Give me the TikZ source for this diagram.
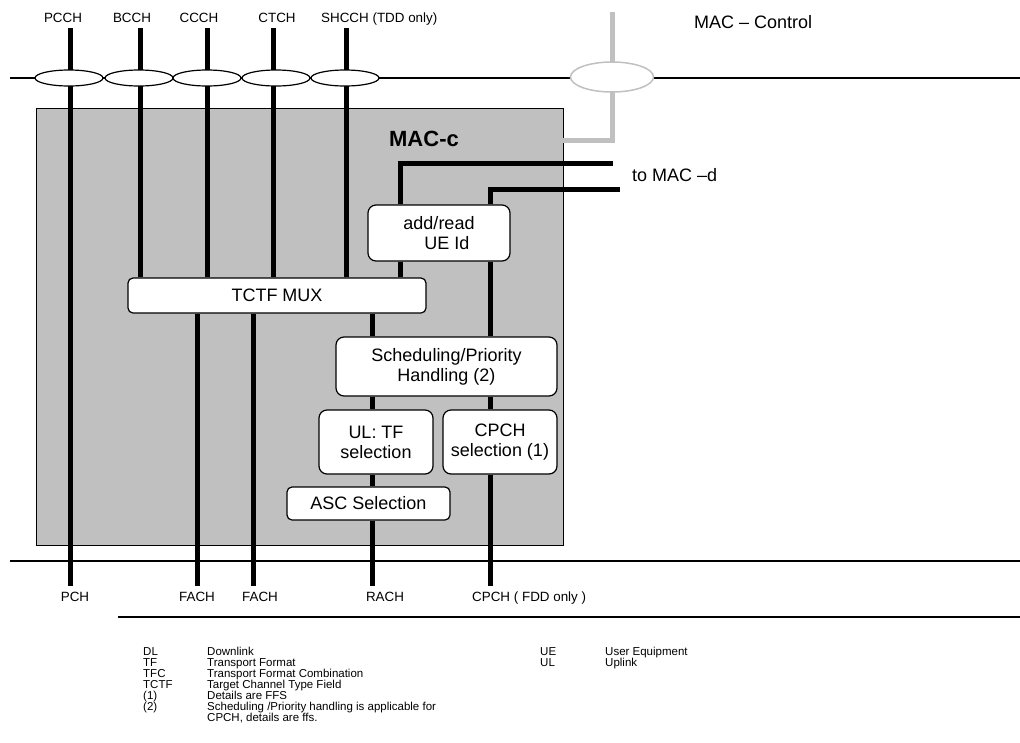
\documentclass[tikz,border=0pt]{standalone}
\usepackage{fontspec}
\setmainfont{Liberation Sans}
\usepackage{xcolor}
\usetikzlibrary{positioning,shapes.geometric,calc}
\definecolor{gris}{HTML}{C0C0C0}

\begin{document}
\begin{tikzpicture}[x=1pt,y=-1pt,
		canal/.style={line width=5pt},
		bus/.style={line width=1.6pt},
		bloc/.style={draw, line width=1.2pt, fill=white, rounded corners=8pt, align=center, inner sep=0pt, font=\fontsize{18}{20}\selectfont},
		anneau/.style={ellipse, draw, line width=1.2pt, fill=white, minimum width=68pt, minimum height=16pt, inner sep=0pt},
		lbl/.style={anchor=base, inner sep=0pt, font=\fontsize{13.4}{15}\selectfont},
		grand/.style={anchor=base west, inner sep=0pt, font=\fontsize{18}{20}\selectfont},
		leg/.style={anchor=north west, inner sep=0pt, align=left, font=\fontsize{11.5}{11}\selectfont}
		]
		\useasboundingbox (0,0) rectangle (1020,742);
		
		% Les bus horizontaux
		\coordinate (h1) at (10,78);  \coordinate (h2) at (1020,78);
		\coordinate (b1) at (10,561); \coordinate (b2) at (1020,561);
		\coordinate (l1) at (118,617); \coordinate (l2) at (1020,617);
		\draw[bus] (h1) -- (h2);
		\draw[bus] (b1) -- (b2);
		\draw[bus] (l1) -- (l2);
		
		% Le bloc MAC-c
		\node[draw, fill=gris, line width=1pt, minimum width=527pt, minimum height=437pt, inner sep=0pt] (MACc) at (299.5,326.5) {};
		\node[anchor=base, inner sep=0pt, font=\fontsize{22}{24}\selectfont\bfseries] (titre) at (424,146) {MAC-c};
		
		% MAC - Control (gris)
		\coordinate (ctl) at (612,12);
		\coordinate (c2) at (563,140);
		\draw[gris, line width=5pt] (ctl) |- (c2);
		\node[ellipse, draw=gris, line width=1.5pt, fill=white, minimum width=83pt, minimum height=30pt] (eC) at (612,77) {};
		\node[grand] (ctrl) at (694,28) {MAC -- Control};
		
		% Les blocs
		\node[bloc, minimum width=142pt, minimum height=56pt] (ADD) at (439,233) {add/read\\\hspace*{16pt}UE Id};
		\node[bloc, rounded corners=5pt, minimum width=298pt, minimum height=35pt] (MUX) at (277,295.5) {TCTF MUX};
		\node[bloc, minimum width=221pt, minimum height=59pt] (SCH) at (446.5,366.5) {Scheduling/Priority\\Handling (2)};
		\node[bloc, minimum width=114pt, minimum height=64pt] (TF) at (376,442) {UL: TF\\selection};
		\node[bloc, minimum width=114pt, minimum height=64pt] (CP) at (500,442) {CPCH\\selection (1)};
		\node[bloc, rounded corners=5pt, minimum width=163pt, minimum height=33pt] (ASC) at (368.5,503.5) {ASC Selection};
		
		% Les canaux logiques et de transport
		\coordinate (pcch) at (70,28);  \coordinate (pch) at (70,586);
		\coordinate (bcch) at (140,28);
		\coordinate (ccch) at (207,28);
		\coordinate (ctch) at (273,28);
		\coordinate (shcch) at (346,28);
		\coordinate (fach1) at (197,586);
		\coordinate (fach2) at (253,586);
		\coordinate (rach) at (372,586);
		\coordinate (cpch) at (490,586);
		\coordinate (ue) at (400,0);
		\coordinate (d1) at (613,163);
		\coordinate (d2) at (620,189);
		
		\draw[canal] (pcch) -- (pch);
		\draw[canal] (bcch) -- (bcch |- MUX.north);
		\draw[canal] (ccch) -- (ccch |- MUX.north);
		\draw[canal] (ctch) -- (ctch |- MUX.north);
		\draw[canal] (shcch) -- (shcch |- MUX.north);
		\draw[canal] (MUX.south -| fach1) -- (fach1);
		\draw[canal] (MUX.south -| fach2) -- (fach2);
		\draw[canal] (MUX.south -| rach) -- (rach |- SCH.north);
		\draw[canal] (SCH.south -| rach) -- (rach |- TF.north);
		\draw[canal] (TF.south -| rach) -- (rach |- ASC.north);
		\draw[canal] (ASC.south -| rach) -- (rach);
		\draw[canal] (d1) -| (ADD.north -| ue);
		\draw[canal] (ADD.south -| ue) -- (ue |- MUX.north);
		\draw[canal] (d2) -| (ADD.north -| cpch);
		\draw[canal] (ADD.south -| cpch) -- (cpch |- SCH.north);
		\draw[canal] (SCH.south -| cpch) -- (cpch |- CP.north);
		\draw[canal] (CP.south -| cpch) -- (cpch);
		\node[grand] (macd) at (632,181) {to MAC --d};
		
		% Les anneaux
		\node[anneau] (e1) at (69,78) {};
		\node[anneau] (e2) at (139,78) {};
		\node[anneau] (e3) at (207,78) {};
		\node[anneau] (e4) at (276,78) {};
		\node[anneau] (e5) at (345,78) {};
		
		% Les etiquettes
		\node[lbl] (t1) at (63,22) {PCCH};
		\node[lbl] (t2) at (132,22) {BCCH};
		\node[lbl] (t3) at (199,22) {CCCH};
		\node[lbl] (t4) at (277,22) {CTCH};
		\node[lbl, anchor=base west] (t5) at (321,22) {SHCCH (TDD only)};
		\node[lbl] (u1) at (75,601) {PCH};
		\node[lbl] (u2) at (197,601) {FACH};
		\node[lbl] (u3) at (260,601) {FACH};
		\node[lbl] (u4) at (385,601) {RACH};
		\node[lbl, anchor=base west] (u5) at (472,601) {CPCH ( FDD only )};
		
		% La legende
		\node[leg] (g1) at (143,647) {DL\\TF\\TFC\\TCTF\\(1)\\(2)};
		\node[leg] (g2) at (207,647) {Downlink\\Transport Format\\Transport Format Combination\\Target Channel Type Field\\Details are FFS\\Scheduling /Priority handling is applicable for\\CPCH, details are ffs.};
		\node[leg] (g3) at (540,647) {UE\\UL};
		\node[leg] (g4) at (605,647) {User Equipment\\Uplink};
	\end{tikzpicture}
\end{document}
